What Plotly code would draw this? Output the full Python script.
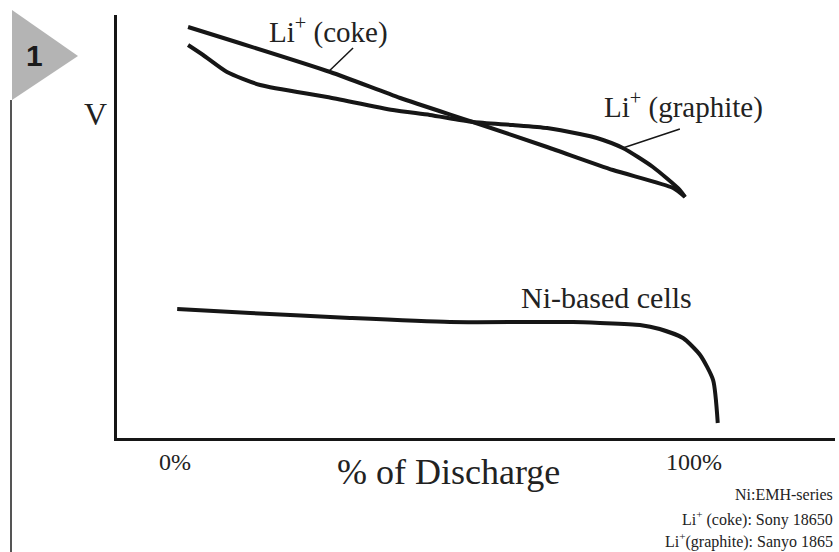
import plotly.graph_objects as go

# ---- data (x: % of discharge, y: cell voltage, V) ----
coke_x = [2.5, 29.9, 43.4, 57.4, 71.7, 84.4, 96.0, 98.3]
coke_v = [4.11, 3.66, 3.40, 3.16, 2.91, 2.68, 2.50, 2.41]

graphite_x = [2.5, 5.4, 10.0, 16.4, 29.3, 42.0, 49.1, 57.4, 65.1, 71.7, 78.0, 81.3, 86.3, 92.1, 97.3, 98.3]
graphite_v = [3.93, 3.83, 3.66, 3.53, 3.41, 3.28, 3.23, 3.16, 3.13, 3.10, 3.04, 3.00, 2.90, 2.71, 2.48, 2.41]

ni_x = [0.4, 14.5, 33.7, 53.0, 76.7, 81.9, 89.6, 93.4, 97.9, 101.2, 103.7, 104.6]
ni_v = [1.29, 1.25, 1.20, 1.16, 1.16, 1.15, 1.13, 1.09, 1.00, 0.83, 0.58, 0.15]

tick_vals = [0, 100]
tick_text = ["0%", "100%"]
notes = ["Ni:EMH-series", "Li<sup>+</sup> (coke): Sony 18650", "Li<sup>+</sup>(graphite): Sanyo 1865"]

FONT = "Liberation Serif"
INK = "#161616"
TXT = "#222222"
W, H = 839, 552
ML, MR, MT, MB = 117, 4, 15, 114
PW, PH = W - ML - MR, H - MT - MB


def px(x):
    return (x - ML) / PW


def py(y):
    return (H - MB - y) / PH


fig = go.Figure()
for xs, ys in [(coke_x, coke_v), (graphite_x, graphite_v), (ni_x, ni_v)]:
    fig.add_trace(go.Scatter(x=xs, y=ys, mode="lines",
                             line=dict(color=INK, width=4, shape="spline", smoothing=0.6),
                             showlegend=False, hoverinfo="skip"))

shapes = [
    # leader lines
    dict(type="line", xref="x", yref="y", x0=34.3, y0=3.90, x1=29.5, y1=3.66, line=dict(color=INK, width=1.5)),
    dict(type="line", xref="x", yref="y", x0=86.3, y0=2.90, x1=97.3, y1=3.09, line=dict(color=INK, width=1.5)),
    # badge triangle
    dict(type="path", xref="paper", yref="paper",
         path=f"M {px(12)},{py(10)} L {px(78)},{py(56)} L {px(12)},{py(100)} Z",
         fillcolor="#b4b4b4", line=dict(width=0)),
    # left bracket line
    dict(type="line", xref="paper", yref="paper", x0=px(11), y0=py(100), x1=px(11), y1=py(552),
         line=dict(color="#555", width=2)),
]


def label(text, x, y, size, xref="paper", yref="paper", xanchor="center", family=FONT, color=TXT):
    return dict(text=text, x=x, y=y, xref=xref, yref=yref, showarrow=False,
                xanchor=xanchor, yanchor="middle",
                font=dict(family=family, size=size, color=color))


annotations = [
    label("Li<sup>+</sup> (coke)", 29.5, 4.08, 29, "x", "y"),
    label("Li<sup>+</sup> (graphite)", 97.9, 3.33, 29, "x", "y"),
    label("Ni-based cells", 83.2, 1.41, 30, "x", "y"),
    label("V", px(95), py(114), 32),
    label("% of Discharge", px(448), py(472), 36),
    label("<b>1</b>", px(34), py(55), 30, family="Liberation Sans", color="#1a1a1a"),
]
for t, yc in zip(notes, [494, 518, 540]):
    annotations.append(label(t, px(835), py(yc), 16, xanchor="right"))

fig.update_layout(
    width=W, height=H,
    margin=dict(l=ML, r=MR, t=MT, b=MB),
    paper_bgcolor="white", plot_bgcolor="white",
    shapes=shapes, annotations=annotations,
    xaxis=dict(range=[-11.2, 127.2], showgrid=False, zeroline=False, showline=True,
               linecolor=INK, linewidth=3, tickvals=tick_vals, ticktext=tick_text, ticks="",
               tickfont=dict(family=FONT, size=24, color=TXT), ticklabelstandoff=0),
    yaxis=dict(range=[0, 4.23], showgrid=False, zeroline=False, showline=True,
               linecolor=INK, linewidth=3, showticklabels=False, ticks=""),
)

fig.write_html("out.html", config={"displayModeBar": False},
               post_script="document.body.style.margin='0';document.body.style.overflow='hidden';")
